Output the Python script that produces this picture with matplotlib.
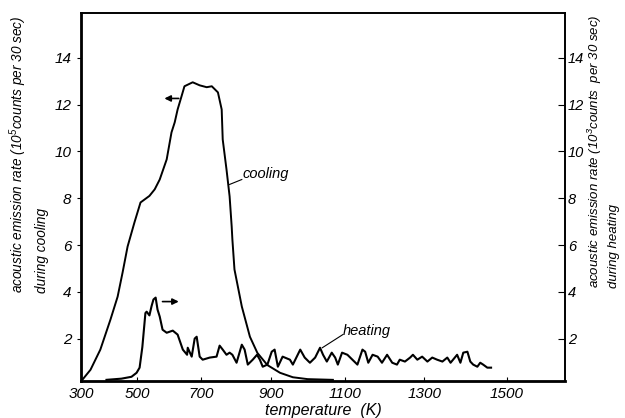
import numpy as np
import matplotlib
matplotlib.use("Agg")
import matplotlib.pyplot as plt

# cooling curve, 10^5 counts per 30 sec (left axis)
cool_T = [300, 305, 336, 372, 408, 433, 450, 467, 490, 510, 539, 556, 572, 594,
          609, 619, 628, 640, 649, 674, 695, 716, 731, 749, 760, 763, 774, 783,
          789, 791, 797, 818, 841, 862, 890, 925, 960, 1000, 1067]
cool_v = [0.2, 0.25, 0.68, 1.54, 2.82, 3.80, 4.83, 5.94, 6.97, 7.82, 8.10, 8.38,
          8.80, 9.66, 10.81, 11.24, 11.79, 12.35, 12.78, 12.95, 12.82, 12.74,
          12.78, 12.52, 11.79, 10.51, 9.23, 8.08, 6.79, 6.24, 4.96, 3.38, 2.09,
          1.40, 0.88, 0.55, 0.36, 0.28, 0.25]

# heating curve, 10^3 counts per 30 sec (right axis)
heat_T = [394, 446, 480, 497, 507, 516, 526, 530, 539, 546, 552, 559, 565, 572,
          581, 594, 613, 628, 644, 657, 659, 671, 680, 686, 695, 704, 725, 745,
          754, 763, 774, 783, 791, 803, 818, 826, 835, 849, 861, 869, 877, 890,
          902, 910, 919, 932, 952, 960, 980, 992, 1006, 1020, 1033, 1041, 1051,
          1064, 1073, 1080, 1091, 1105, 1118, 1131, 1144, 1151, 1159, 1170, 1183,
          1194, 1207, 1220, 1232, 1239, 1252, 1265, 1272, 1283, 1295, 1308, 1320,
          1332, 1345, 1357, 1365, 1381, 1389, 1396, 1406, 1413, 1420, 1430, 1437,
          1444, 1454, 1463]
heat_v = [0.25, 0.30, 0.38, 0.55, 0.77, 1.65, 3.10, 3.16, 3.00, 3.40, 3.68, 3.76,
          3.25, 2.95, 2.39, 2.26, 2.35, 2.18, 1.54, 1.32, 1.62, 1.24, 2.01, 2.09,
          1.24, 1.11, 1.20, 1.24, 1.71, 1.54, 1.32, 1.41, 1.32, 0.98, 1.75, 1.54,
          0.90, 1.11, 1.32, 1.11, 0.81, 0.90, 1.45, 1.54, 0.81, 1.24, 1.11, 0.90,
          1.54, 1.20, 0.98, 1.20, 1.62, 1.32, 1.03, 1.41, 1.20, 0.90, 1.41, 1.32,
          1.11, 0.90, 1.54, 1.45, 0.98, 1.32, 1.24, 0.98, 1.32, 0.98, 0.90, 1.11,
          1.03, 1.20, 1.32, 1.11, 1.24, 1.03, 1.20, 1.11, 1.03, 1.20, 0.98, 1.32,
          0.98, 1.41, 1.45, 1.03, 0.90, 0.81, 0.98, 0.90, 0.77, 0.77]

x_ticks = [300, 500, 700, 900, 1100, 1300, 1500]
y_ticks = [2, 4, 6, 8, 10, 12, 14]

plt.rcParams['font.family'] = ['Liberation Sans', 'DejaVu Sans']
plt.rcParams['font.style'] = 'italic'
plt.rcParams['mathtext.fontset'] = 'custom'
plt.rcParams['mathtext.rm'] = 'Liberation Sans:italic'

fig = plt.figure(figsize=(6.25, 4.18), dpi=100)
ax = fig.add_axes([0.1296, 0.0885, 0.7744, 0.880])

# the original drawing has a stretched temperature axis
ax.set_xscale('function', functions=(lambda t: np.abs(t)**1.3,
                                     lambda u: np.abs(u)**(1 / 1.3)))
ax.set_xlim(300, 1637)
ax.set_ylim(0.2, 15.9)

ax.plot(cool_T, cool_v, color="black", lw=1.4)

ax2 = ax.twinx()
ax2.set_ylim(0.2, 15.9)
ax2.plot(heat_T, heat_v, color="black", lw=1.5)

ax.set_xticks(x_ticks)
ax.set_xticklabels([str(t) for t in x_ticks])
ax.xaxis.set_minor_locator(matplotlib.ticker.NullLocator())
ax.set_yticks(y_ticks)
ax2.set_yticks(y_ticks)
ax.tick_params(axis="x", direction="in", length=3, labelsize=11, pad=4)
ax.tick_params(axis="y", direction="out", length=3, labelsize=11, pad=4)
ax2.tick_params(axis="y", direction="in", length=5, labelsize=10.5, pad=2)

for sp in ["left", "bottom"]:
    ax.spines[sp].set_linewidth(2.0)
for sp in ["top", "right"]:
    ax.spines[sp].set_linewidth(1.2)
    ax2.spines[sp].set_linewidth(1.2)

# arrows showing which axis belongs to which curve
ax.annotate("", xy=(578, 12.26), xytext=(640, 12.26),
            arrowprops=dict(arrowstyle="-|>", color="black", lw=1.2, mutation_scale=9))
ax.annotate("", xy=(640, 3.59), xytext=(572, 3.59),
            arrowprops=dict(arrowstyle="-|>", color="black", lw=1.2, mutation_scale=9))

ax.plot([783, 818], [8.59, 8.80], color="black", lw=0.8)
ax.text(821, 9.02, "cooling", fontsize=10.5, va="center", ha="left")
ax.plot([1039, 1093], [1.62, 2.18], color="black", lw=0.8)
ax.text(1093, 2.35, "heating", fontsize=10.5, va="center", ha="left")

fig.text(0.518, 0.0, "temperature  (K)", fontsize=11.5, ha="center", va="bottom")
fig.text(0.012, 0.30, "acoustic emission rate (10$^5$counts per 30 sec)\nduring cooling",
         rotation=90, fontsize=9.8, ha="left", va="bottom", multialignment="left",
         linespacing=1.5)
fig.text(0.938, 0.31, "acoustic emission rate (10$^3$counts  per 30 sec)\nduring heating",
         rotation=90, fontsize=9.5, ha="left", va="bottom", multialignment="left",
         linespacing=1.35)

plt.savefig("out.png", dpi=100)
